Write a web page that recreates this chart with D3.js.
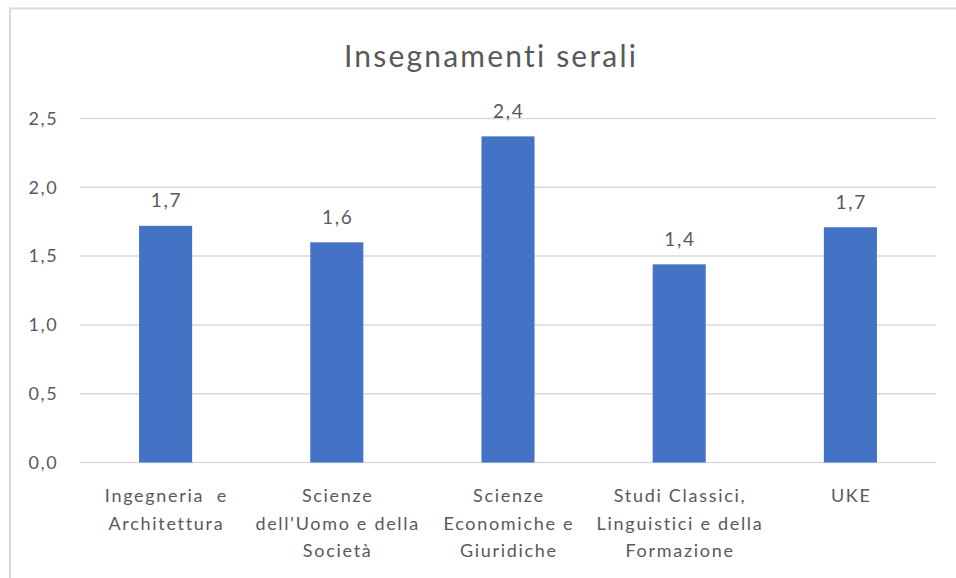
<!DOCTYPE html>
<html>
<head>
<meta charset="utf-8">
<script src="https://cdn.jsdelivr.net/npm/d3@7"></script>
<style>
  html, body { margin: 0; padding: 0; background: #fff; }
  svg { display: block; }
  text { font-family: Lato, "Open Sans", sans-serif; fill: #595959; }
</style>
</head>
<body>
<svg id="chart" width="956" height="578"></svg>
<script>
const title = "Insegnamenti serali";
const categories = [
  "Ingegneria e Architettura",
  "Scienze dell'Uomo e della Società",
  "Scienze Economiche e Giuridiche",
  "Studi Classici, Linguistici e della Formazione",
  "UKE"
];
const categoryLines = [
  ["Ingegneria  e", "Architettura"],
  ["Scienze", "dell'Uomo e della", "Società"],
  ["Scienze", "Economiche e", "Giuridiche"],
  ["Studi Classici,", "Linguistici e della", "Formazione"],
  ["UKE"]
];
const values = [1.72, 1.60, 2.37, 1.44, 1.71];
const yTicks = [0, 0.5, 1.0, 1.5, 2.0, 2.5];

const W = 956, H = 578;
const plotLeft = 80, plotRight = 936;
const svg = d3.select("#chart");

const itFmt = d3.formatLocale({ decimal: ",", thousands: ".", grouping: [3], currency: ["€", ""] }).format(".1f");

const LS = 1.7; // letter spacing

// outer border
svg.append("rect")
  .attr("x", 10).attr("y", 8.5)
  .attr("width", W + 20).attr("height", H + 20)
  .attr("fill", "#fff").attr("stroke", "#d9d9d9").attr("stroke-width", 2);

const x = d3.scaleBand()
  .domain(categories)
  .range([plotLeft, plotRight])
  .paddingInner(0.69)
  .paddingOuter(0.345);

const y = d3.scaleLinear()
  .domain([0, 2.5])
  .range([462.5, 118.5]);

// gridlines
svg.append("g")
  .selectAll("line")
  .data(yTicks)
  .join("line")
  .attr("x1", plotLeft).attr("x2", plotRight)
  .attr("y1", d => y(d)).attr("y2", d => y(d))
  .attr("stroke", "#d9d9d9").attr("stroke-width", 1.5);

// y axis labels
const yAxis = d3.axisLeft(y).tickValues(yTicks).tickFormat(itFmt).tickSize(0).tickPadding(0);
const gy = svg.append("g").attr("transform", "translate(58.5,0)").call(yAxis);
gy.select(".domain").remove();
gy.selectAll("text")
  .attr("font-size", 18).attr("fill", "#595959")
  .style("letter-spacing", LS + "px")
  .style("font-family", "Lato, sans-serif");

// bars
svg.append("g")
  .selectAll("rect")
  .data(values)
  .join("rect")
  .attr("x", (d, i) => x(categories[i]))
  .attr("width", x.bandwidth())
  .attr("y", d => y(d))
  .attr("height", d => y(0) - y(d))
  .attr("fill", "#4472C4");

// value labels
svg.append("g")
  .selectAll("text")
  .data(values)
  .join("text")
  .attr("x", (d, i) => x(categories[i]) + x.bandwidth() / 2 + LS / 2)
  .attr("y", d => y(d) - 18.5)
  .attr("text-anchor", "middle")
  .attr("font-size", 19)
  .attr("fill", "#404040")
  .style("letter-spacing", LS + "px")
  .text(d => itFmt(d));

// category labels
const cat = svg.append("g")
  .selectAll("text")
  .data(categories)
  .join("text")
  .attr("text-anchor", "middle")
  .attr("font-size", 18)
  .attr("fill", "#595959")
  .style("letter-spacing", LS + "px")
  .attr("x", d => x(d) + x.bandwidth() / 2)
  .attr("y", 502);
cat.each(function(d, i) {
  const t = d3.select(this);
  categoryLines[i].forEach((ln, j) => {
    t.append("tspan")
      .attr("x", x(d) + x.bandwidth() / 2 + LS / 2)
      .attr("y", 502 + j * 27.5)
      .style("white-space", "pre")
      .text(ln);
  });
});

// title
svg.append("text")
  .attr("x", 491).attr("y", 67)
  .attr("text-anchor", "middle")
  .attr("font-size", 30)
  .attr("fill", "#595959")
  .style("letter-spacing", "2.2px")
  .text(title);
</script>
</body>
</html>
